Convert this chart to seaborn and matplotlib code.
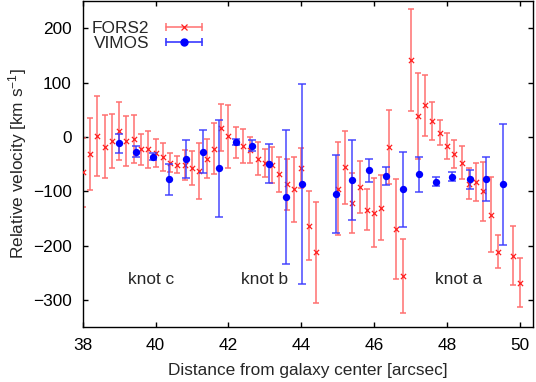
import matplotlib
matplotlib.use("Agg")
import matplotlib.pyplot as plt
from matplotlib.lines import Line2D
from matplotlib.legend_handler import HandlerLine2D, HandlerTuple
import seaborn as sns

# FORS2 long-slit velocities (arcsec, km/s, error)
fors2_x = [38.0, 38.2, 38.4, 38.6, 38.8, 39.0, 39.2, 39.4, 39.6, 39.8,
           40.0, 40.2, 40.4, 40.6, 40.8, 41.0, 41.2, 41.4, 41.6, 41.8,
           42.0, 42.2, 42.4, 42.6, 42.8, 43.0, 43.2, 43.4, 43.6, 43.8,
           44.0, 44.2, 44.4, 45.0, 45.2, 45.4, 45.6, 45.8, 46.0, 46.2,
           46.4, 46.6, 46.8, 47.0, 47.2, 47.4, 47.6, 47.8, 48.0, 48.2,
           48.4, 48.6, 48.8, 49.0, 49.2, 49.4, 49.8, 50.0]
fors2_v = [-65, -31, 2, -18, -7, 11, -7, -3, -23, -23,
           -30, -37, -47, -51, -52, -57, -63, -40, -22, 17,
           1, -10, -16, -24, -40, -48, -52, -69, -87, -96,
           -57, -163, -212, -95, -56, -122, -92, -134, -139, -130,
           -19, -169, -256, 142, 39, 58, 30, 8, -17, -32,
           -47, -86, -83, -100, -143, -211, -218, -268]
fors2_err = [63, 66, 74, 58, 50, 53, 46, 44, 29, 34,
             26, 25, 18, 16, 28, 31, 51, 36, 47, 43,
             58, 28, 31, 24, 30, 26, 33, 32, 47, 60,
             37, 64, 93, 86, 67, 55, 48, 38, 63, 60,
             68, 92, 68, 94, 79, 56, 35, 23, 24, 26,
             31, 28, 35, 54, 69, 30, 54, 45]

# VIMOS IFU velocities
vimos_x = [39.0, 39.46, 39.92, 40.38, 40.83, 41.29, 41.75, 42.2, 42.66, 43.12,
           43.57, 44.03, 44.95, 45.4, 45.86, 46.32, 46.78, 47.24, 47.69, 48.15,
           48.62, 49.07, 49.53]
vimos_v = [-12, -27, -36, -78, -41, -27, -58, -9, -16, -49,
           -111, -86, -105, -79, -61, -72, -96, -69, -82, -73,
           -78, -77, -87]
vimos_err = [17, 10, 7, 28, 35, 40, 90, 6, 10, 36,
             123, 184, 71, 74, 21, 16, 69, 33, 8, 8,
             18, 41, 111]

knot_names = ["knot c", "knot b", "knot a"]
knot_x = [39.88, 43.0, 48.32]
knot_y = -270

sns.set_theme(style="ticks")
plt.rcParams["font.family"] = ["Liberation Sans", "DejaVu Sans"]
plt.rcParams["mathtext.default"] = "regular"

fs = 12.4
red_line = "#ff7070"
red_mark = "#ff2020"
blue_line = "#3a3aff"
blue_mark = "#0000ff"

fig = plt.figure(figsize=(5.36, 3.82), dpi=100)
ax = fig.add_axes([0.1543, 0.1432, 0.9944 - 0.1543, 0.9974 - 0.1432])

ax.errorbar(fors2_x, fors2_v, yerr=fors2_err, fmt="none", ecolor=red_line,
            elinewidth=1.1, capsize=2.5, capthick=1.1, zorder=2)
sns.scatterplot(x=fors2_x, y=fors2_v, marker="x", s=14, color=red_mark,
                linewidth=0.9, ax=ax, zorder=3, legend=False)

ax.errorbar(vimos_x, vimos_v, yerr=vimos_err, fmt="none", ecolor=blue_line,
            elinewidth=1.2, capsize=3, capthick=1.2, alpha=0.85, zorder=4)
sns.scatterplot(x=vimos_x, y=vimos_v, marker="o", s=28, color=blue_mark,
                edgecolor=blue_mark, linewidth=0, ax=ax, zorder=5, legend=False)

for name, kx in zip(knot_names, knot_x):
    ax.text(kx, knot_y, name, ha="center", va="baseline", fontsize=fs)

ax.set_xlim(38, 50.36)
ax.set_ylim(-350, 250)
ax.set_xticks(range(38, 51, 2))
ax.set_yticks(range(-300, 201, 100))
ax.tick_params(direction="in", length=3.4, width=1, top=True, right=True,
               labelsize=fs, pad=8, colors="black")
for sp in ax.spines.values():
    sp.set_linewidth(1)
    sp.set_color("black")

ax.set_xlabel("Distance from galaxy center [arcsec]", fontsize=fs, labelpad=7)
ax.set_ylabel("Relative velocity [km s$^{-1}$]", fontsize=fs, labelpad=3)

# gnuplot-style legend samples: horizontal bar with caps and a marker
f_bar = Line2D([], [], color=red_line, lw=1.1, marker="|", ms=6, mew=1.1)
f_pt = Line2D([], [], color=red_mark, ls="none", marker="x", ms=3.8, mew=0.9)
v_bar = Line2D([], [], color=blue_line, lw=1.2, marker="|", ms=6, mew=1.2)
v_pt = Line2D([], [], color=blue_mark, ls="none", marker="o", ms=5)
hmap = {f_bar: HandlerLine2D(numpoints=2), v_bar: HandlerLine2D(numpoints=2),
        f_pt: HandlerLine2D(numpoints=1), v_pt: HandlerLine2D(numpoints=1),
        tuple: HandlerTuple(ndivide=1, pad=0)}
ax.legend([(f_bar, f_pt), (v_bar, v_pt)], ["FORS2", "VIMOS"],
          handler_map=hmap, loc="upper right", bbox_to_anchor=(0.276, 0.94),
          frameon=False, markerfirst=False, fontsize=fs, handlelength=2.7,
          handletextpad=0.65, labelspacing=0.0, borderpad=0, borderaxespad=0)

fig.savefig("out.png", dpi=100)
